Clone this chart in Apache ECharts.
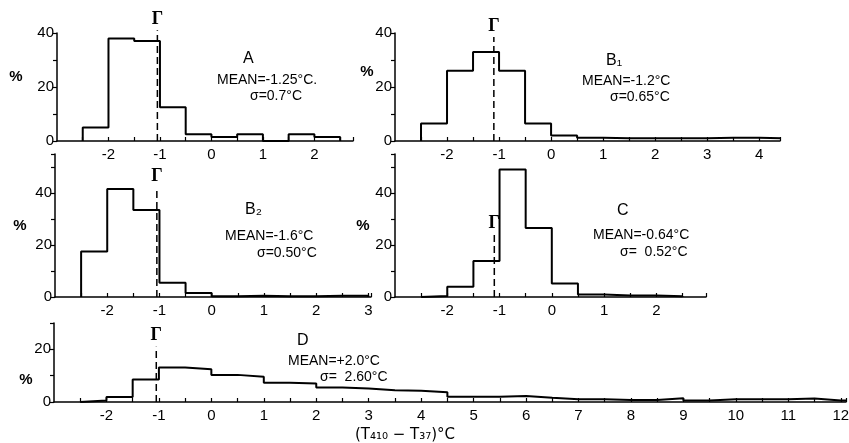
<!DOCTYPE html>
<html>
<head>
<meta charset="utf-8">
<script src="https://cdn.jsdelivr.net/npm/echarts@6/dist/echarts.min.js"></script>
<style>html,body{margin:0;padding:0;background:#fff}#c{width:849px;height:443px}</style>
</head>
<body>
<div id="c"></div>
<script>
// ---- data (percent per 0.5 °C bin) ----
const binWidth = 0.5;
const binStart = -2.5;
const valuesA  = [5, 38, 37, 12.5, 2.5, 1.5, 2.5, 0, 2.5, 1.5];
const valuesB1 = [6.5, 26, 33, 26, 6.5, 2, 1.2, 1, 1, 1, 1, 1.2, 1.2, 1];
const valuesB2 = [17.5, 41.5, 33.5, 5.5, 1.5, 0.3, 0.5, 0.3, 0.3, 0.5, 0.5];
const valuesC  = [0.4, 3.9, 13.8, 49, 26.5, 5.2, 1, 0.6, 0.6, 0.3];
const valuesD  = [0.6, 1.9, 8.5, 13.1, 12.4, 10.3, 9.6, 7.3, 7, 5.5, 5.1, 4.5, 4.3, 3.7, 2, 2, 2.3, 1.6, 1, 1, 0.8, 0.8, 1.4, 0.6, 1, 1, 1, 1.3, 0.6, 0.6];
// Γ (dashed marker) positions and the height its dashed line reaches
const gammaX   = {A: -1.05, B1: -1.1, B2: -1.05, C: -1.1, D: -1.05};
const gammaTop = {A: 41, B1: 38.5, B2: 42, C: 24, D: 21};
// axis ranges
const xMin = -3;
const xMax = {A: 2.75, B1: 4.4, B2: 3.05, C: 2.95, D: 12.1};
const yMax = {A: 40, B1: 40, B2: 55, C: 55, D: 30};
const panels = ['A', 'B1', 'B2', 'C', 'D'];
const values = {A: valuesA, B1: valuesB1, B2: valuesB2, C: valuesC, D: valuesD};
const labelsText = {
  A:  ['A', 'MEAN=-1.25°C.', 'σ=0.7°C'],
  B1: ['B₁', 'MEAN=-1.2°C', 'σ=0.65°C'],
  B2: ['B₂', 'MEAN=-1.6°C', 'σ=0.50°C'],
  C:  ['C', 'MEAN=-0.64°C', 'σ=  0.52°C'],
  D:  ['D', 'MEAN=+2.0°C', 'σ=  2.60°C']
};
const xTitle = '(T₄₁₀ − T₃₇)°C';

// ---- layout ----
const grids = {
  A:  {left: 57,  top: 33,  width: 296, height: 108},
  B1: {left: 395, top: 33,  width: 385, height: 108},
  B2: {left: 55,  top: 154, width: 316, height: 143},
  C:  {left: 395, top: 154, width: 311, height: 143},
  D:  {left: 54,  top: 323, width: 792, height: 79}
};
const textPos = {
  A:  [[243, 59], [217, 80], [250, 96]],
  B1: [[606, 61], [582, 81], [610, 97]],
  B2: [[245, 210], [225, 236], [257, 253]],
  C:  [[617, 211], [593, 235], [620, 252]],
  D:  [[297, 341], [288, 361], [320, 377]]
};
const pctPos = {A: [16, 77], B1: [367, 72], B2: [20, 226], C: [363, 226], D: [26, 380]};

const FONT = 'Liberation Sans, Arial, sans-serif';

function stepPoints(start, vals) {
  const pts = [[start, 0]];
  vals.forEach((v, i) => pts.push([start + i * binWidth, v]));
  const end = start + vals.length * binWidth;
  pts.push([end, vals[vals.length - 1]]);
  pts.push([end, 0]);
  return pts;
}

const option = {
  backgroundColor: '#fff',
  animation: false,
  grid: [], xAxis: [], yAxis: [], series: [], graphic: []
};

panels.forEach((p, i) => {
  option.grid.push(Object.assign({containLabel: false, outerBoundsMode: 'none'}, grids[p]));
  option.xAxis.push({
    type: 'value', gridIndex: i, min: xMin, max: xMax[p], interval: 0.5,
    axisLine: {show: true, onZero: false, lineStyle: {color: '#000', width: 1.5}},
    axisTick: {show: true, inside: true, length: 4, lineStyle: {color: '#000', width: 1.2}},
    splitLine: {show: false},
    axisLabel: {
      color: '#000', fontFamily: FONT, fontSize: 15, margin: 6,
      showMinLabel: false, showMaxLabel: true,
      formatter: v => (Math.abs(v - Math.round(v)) < 1e-6 && v > -2.5) ? String(Math.round(v)) : ''
    }
  });
  option.yAxis.push({
    type: 'value', gridIndex: i, min: 0, max: yMax[p], interval: 10,
    axisLine: {show: true, onZero: false, lineStyle: {color: '#000', width: 1.5}},
    axisTick: {show: true, length: 4, lineStyle: {color: '#000', width: 1.2}},
    splitLine: {show: false},
    axisLabel: {
      color: '#000', fontFamily: FONT, fontSize: 15, margin: 3,
      formatter: v => (v % 20 === 0) ? String(v) : ''
    }
  });
  option.series.push({
    type: 'line', xAxisIndex: i, yAxisIndex: i, step: 'end',
    symbol: 'none', silent: true,
    lineStyle: {color: '#000', width: 2},
    data: stepPoints(binStart, values[p])
  });
  option.series.push({
    type: 'line', xAxisIndex: i, yAxisIndex: i, clip: false, silent: true,
    symbol: 'circle', symbolSize: 0,
    lineStyle: {color: '#000', width: 1.5, type: [7, 4]},
    data: [
      [gammaX[p], 0],
      {value: [gammaX[p], gammaTop[p]],
       label: {show: true, position: 'top', distance: 2, formatter: 'Γ',
               color: '#000', fontFamily: 'Liberation Serif, DejaVu Serif, serif',
               fontSize: 18, fontWeight: 'bold'}}
    ]
  });
  const t = labelsText[p];
  textPos[p].forEach((pos, k) => {
    option.graphic.push({
      type: 'text', x: pos[0], y: pos[1],
      style: {text: t[k], fill: '#000', font: (k === 0 ? '16px ' : '14px ') + FONT,
              verticalAlign: 'middle', textVerticalAlign: 'middle'}
    });
  });
  option.graphic.push({
    type: 'text', x: pctPos[p][0], y: pctPos[p][1],
    style: {text: '%', fill: '#000', font: 'bold 15px ' + FONT,
            align: 'center', textAlign: 'center', verticalAlign: 'middle', textVerticalAlign: 'middle'}
  });
});
option.graphic.push({
  type: 'text', x: 405, y: 435,
  style: {text: xTitle, fill: '#000', font: '15px DejaVu Sans, ' + FONT,
          align: 'center', textAlign: 'center', verticalAlign: 'middle', textVerticalAlign: 'middle'}
});

const chart = echarts.init(document.getElementById('c'), null, {renderer: 'canvas'});
chart.setOption(option);
</script>
</body>
</html>
